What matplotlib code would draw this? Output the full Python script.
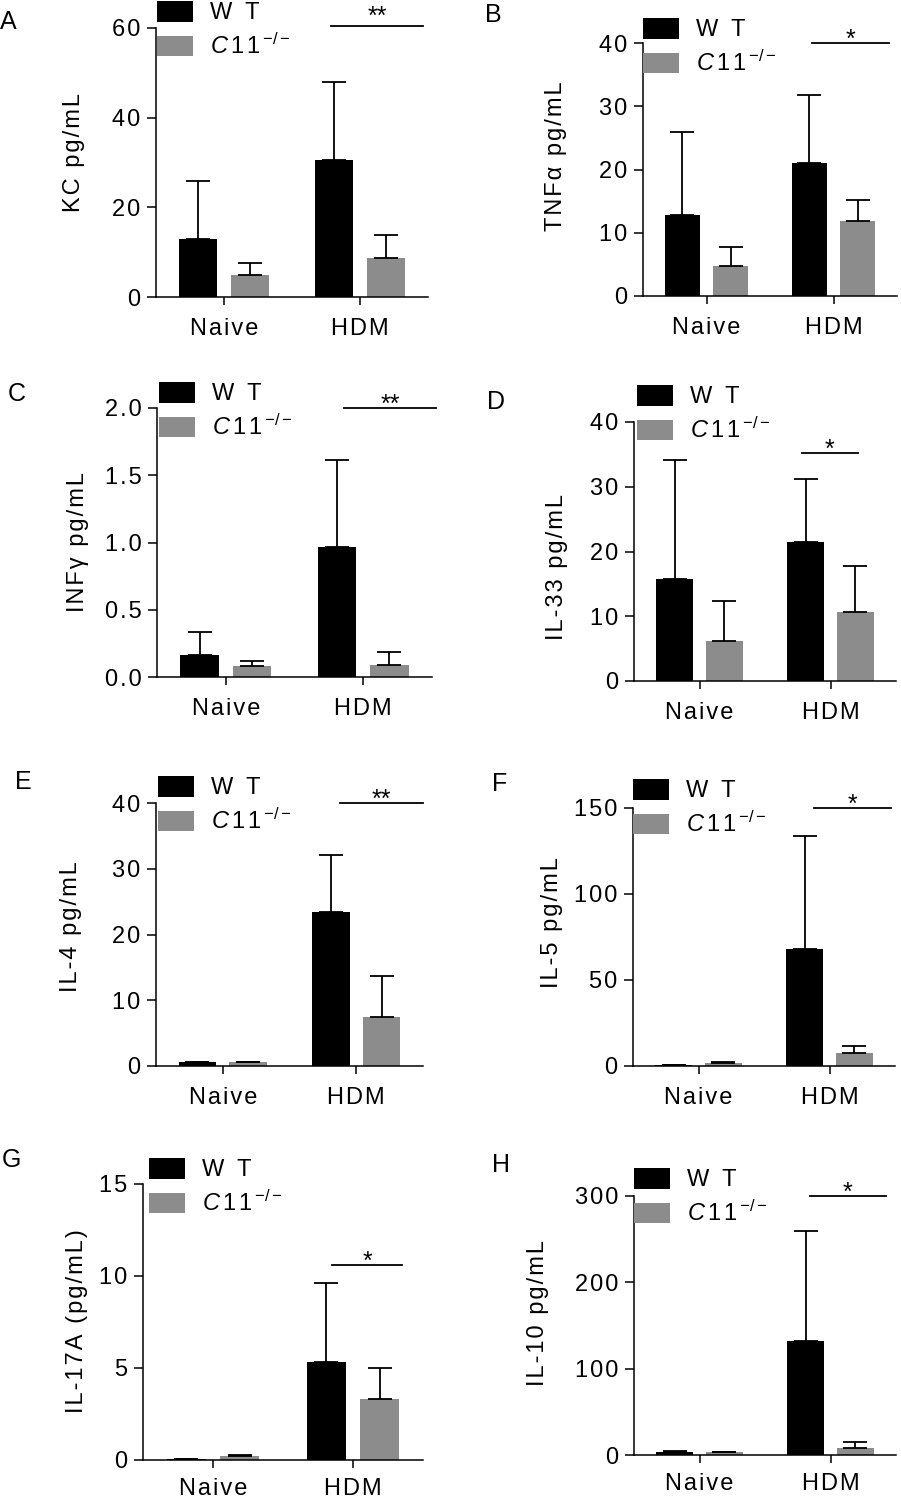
import numpy as np
import matplotlib
matplotlib.use("Agg")
import matplotlib.pyplot as plt
from matplotlib.patches import Patch
from matplotlib.ticker import FuncFormatter

# Figure size in pixels (dpi 100)
W, H = 901, 1500

plt.rcParams['font.family'] = ['Liberation Sans', 'DejaVu Sans']
plt.rcParams['mathtext.fontset'] = 'custom'
plt.rcParams['mathtext.rm'] = 'Liberation Sans'
plt.rcParams['mathtext.it'] = 'Liberation Sans:italic'

# Data
groups = ['Naive', 'HDM']
panel_letters = ['A', 'B', 'C', 'D', 'E', 'F', 'G', 'H']
ylabels = ['KC pg/mL', 'TNFα pg/mL', 'INFγ pg/mL', 'IL-33 pg/mL',
           'IL-4 pg/mL', 'IL-5 pg/mL', 'IL-17A (pg/mL)', 'IL-10 pg/mL']

wt_mean = [[12.9, 30.5], [12.8, 21.1], [0.166, 0.964], [15.7, 21.4],
           [0.6, 23.4], [0.3, 67.9], [0.03, 5.35], [3.9, 132.0]]
wt_err = [[12.9, 17.4], [13.1, 10.7], [0.168, 0.646], [18.4, 9.8],
          [0.05, 8.7], [0.1, 66.1], [0.0, 4.25], [0.5, 128.0]]
c11_mean = [[4.9, 8.7], [4.8, 11.8], [0.084, 0.089], [6.2, 10.6],
            [0.6, 7.4], [2.0, 7.4], [0.23, 3.3], [3.0, 7.7]]
c11_err = [[2.7, 5.2], [2.9, 3.4], [0.032, 0.094], [6.2, 7.2],
           [0.05, 6.3], [0.2, 4.2], [0.04, 1.7], [0.5, 7.7]]

yticks = [[0, 20, 40, 60], [0, 10, 20, 30, 40], [0.0, 0.5, 1.0, 1.5, 2.0],
          [0, 10, 20, 30, 40], [0, 10, 20, 30, 40], [0, 50, 100, 150],
          [0, 5, 10, 15], [0, 100, 200, 300]]

# significance bars: (x start, x end, y, stars)
sig = [(0.79, 1.46, 60.4, '**'), (0.83, 1.44, 40, '*'), (0.86, 1.53, 2.0, '**'),
       (0.78, 1.21, 35.2, '*'), (0.88, 1.50, 40, '**'), (0.885, 1.47, 150, '*'),
       (0.85, 1.35, 10.6, '*'), (0.84, 1.42, 300, '*')]

# Layout (pixels): axes box (left, right, bottom, top)
boxes = [(156, 428, 297, 28), (643, 897, 296, 43), (157, 432, 677, 408),
         (634, 896, 681, 422), (156, 423, 1066, 803), (633, 895, 1066, 808),
         (143, 423, 1460, 1184), (634, 896, 1455, 1196)]
label_right = [85, 567, 89, 568, 82, 563, 88, 549]
label_center = [152, 156, 542, 567, 927, 923, 1321, 1313]
legend_pos = [(157, 1), (643, 18), (159, 382), (637, 385),
              (158, 776), (633, 779), (149, 1158), (634, 1168)]
letter_pos = [(0, 10), (485, 3), (8, 382), (487, 390),
              (15, 770), (492, 772), (2, 1148), (492, 1153)]

BLACK = '#000000'
GRAY = '#8c8c8c'
BAR_W = 0.28
OFFSET = 0.19
FS = 17


def spaced(s, sep='\u200a'):
    # GraphPad-like letter spacing
    return sep.join(s)


def tick_fmt(decimals):
    def f(v, pos):
        return spaced(f"{v:.{decimals}f}")
    return FuncFormatter(f)


fig = plt.figure(figsize=(W / 100, H / 100), dpi=100)

for i in range(8):
    x0, x1, yb, yt = boxes[i]
    ax = fig.add_axes([x0 / W, 1 - yb / H, (x1 - x0) / W, (yb - yt) / H])
    xs = np.arange(len(groups))
    ekw = dict(ecolor='black', elinewidth=1.3, capsize=8.5, capthick=1.3, zorder=3)
    ax.bar(xs - OFFSET, wt_mean[i], BAR_W, color=BLACK,
           yerr=[np.zeros(2), wt_err[i]], error_kw=ekw, zorder=2)
    ax.bar(xs + OFFSET, c11_mean[i], BAR_W, color=GRAY,
           yerr=[np.zeros(2), c11_err[i]], error_kw=ekw, zorder=2)

    ax.set_xlim(-0.5, 1.5)
    ax.set_ylim(0, yticks[i][-1])
    ax.set_yticks(yticks[i])
    ax.yaxis.set_major_formatter(tick_fmt(1 if i == 2 else 0))
    ax.set_xticks(xs)
    ax.set_xticklabels([spaced(g) for g in groups])
    for s in ['top', 'right']:
        ax.spines[s].set_visible(False)
    for s in ['left', 'bottom']:
        ax.spines[s].set_linewidth(1.1)
    ax.tick_params(axis='y', length=6.5, width=1.1, pad=4.5, labelsize=FS)
    ax.tick_params(axis='x', length=6, width=1.1, pad=9 if i < 6 else 7, labelsize=FS)

    ax.set_ylabel(spaced(ylabels[i]), fontsize=FS)
    ax.yaxis.set_label_coords((label_right[i] - x0) / (x1 - x0),
                              (yb - label_center[i]) / (yb - yt))

    # significance bar
    sx0, sx1, sy, stars = sig[i]
    ax.plot([sx0, sx1], [sy, sy], color='black', lw=1.3, clip_on=False)
    ax.annotate(stars, xy=((sx0 + sx1) / 2, sy), xytext=(0, -3 if i else 2),
                textcoords='offset points', ha='center', va='baseline',
                fontsize=18, annotation_clip=False)

    # legend
    lx, ly = legend_pos[i]
    handles = [Patch(facecolor=BLACK), Patch(facecolor=GRAY)]
    labels = ['W  T', r'$\mathit{C\,1\,1}^{\,\mathit{-/-}}$']
    ax.legend(handles, labels, loc='upper left', bbox_to_anchor=(lx / W, 1 - ly / H),
              bbox_transform=fig.transFigure, frameon=False, borderpad=0,
              borderaxespad=0, handlelength=1.53, handleheight=0.97,
              handletextpad=0.72, labelspacing=0.4, fontsize=FS)

    # panel letter
    px, py = letter_pos[i]
    fig.text(px / W, 1 - py / H, panel_letters[i], ha='left', va='top', fontsize=18)

fig.savefig('out.png', dpi=100)
